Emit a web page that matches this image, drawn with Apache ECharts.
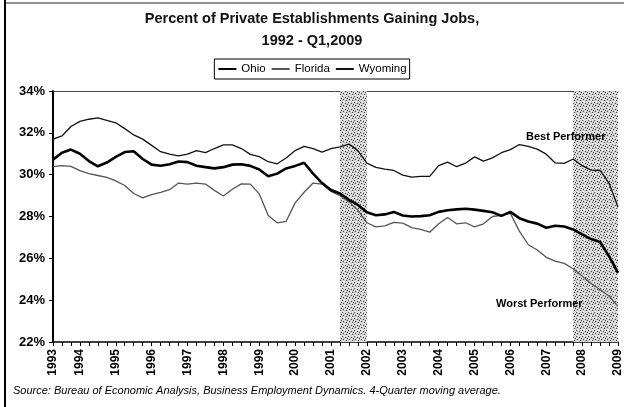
<!DOCTYPE html>
<html><head><meta charset="utf-8">
<script src="https://cdn.jsdelivr.net/npm/echarts@6/dist/echarts.min.js"></script>
<style>html,body{margin:0;padding:0;background:#fff}#c{width:624px;height:407px}</style>
</head><body><div id="c"></div>
<script>
const quarters = ['1993Q2','1993Q3','1993Q4',
'1994Q1','1994Q2','1994Q3','1994Q4','1995Q1','1995Q2','1995Q3','1995Q4',
'1996Q1','1996Q2','1996Q3','1996Q4','1997Q1','1997Q2','1997Q3','1997Q4',
'1998Q1','1998Q2','1998Q3','1998Q4','1999Q1','1999Q2','1999Q3','1999Q4',
'2000Q1','2000Q2','2000Q3','2000Q4','2001Q1','2001Q2','2001Q3','2001Q4',
'2002Q1','2002Q2','2002Q3','2002Q4','2003Q1','2003Q2','2003Q3','2003Q4',
'2004Q1','2004Q2','2004Q3','2004Q4','2005Q1','2005Q2','2005Q3','2005Q4',
'2006Q1','2006Q2','2006Q3','2006Q4','2007Q1','2007Q2','2007Q3','2007Q4',
'2008Q1','2008Q2','2008Q3','2008Q4','2009Q1'];

const ohio = [30.72,31.05,31.2,31.0,30.65,30.4,30.58,30.85,31.08,31.12,
30.75,30.48,30.43,30.5,30.63,30.6,30.43,30.36,30.3,30.36,
30.48,30.5,30.42,30.25,29.92,30.05,30.3,30.42,30.57,30.05,
29.6,29.27,29.1,28.8,28.55,28.2,28.06,28.1,28.22,28.05,
28.0,28.02,28.06,28.22,28.3,28.34,28.37,28.33,28.27,28.2,
28.03,28.22,27.92,27.76,27.66,27.46,27.56,27.52,27.38,27.15,
26.92,26.78,26.1,25.3];

const florida = [30.38,30.43,30.4,30.19,30.05,29.96,29.87,29.7,29.48,29.1,
28.89,29.05,29.15,29.28,29.6,29.55,29.6,29.55,29.25,28.98,
29.3,29.56,29.55,29.08,28.05,27.7,27.77,28.65,29.16,29.6,
29.55,29.2,29.0,28.7,28.3,27.7,27.5,27.55,27.72,27.68,
27.47,27.38,27.25,27.65,27.95,27.65,27.7,27.5,27.65,28.0,
28.05,28.15,27.3,26.65,26.4,26.05,25.87,25.76,25.5,25.15,
24.8,24.5,24.2,23.7];

const wyoming = [31.7,31.85,32.3,32.55,32.65,32.72,32.6,32.48,32.2,31.9,
31.7,31.4,31.1,30.98,30.9,30.98,31.15,31.05,31.25,31.42,
31.42,31.25,30.97,30.86,30.62,30.52,30.8,31.15,31.35,31.25,
31.08,31.24,31.33,31.46,31.15,30.55,30.35,30.27,30.2,29.98,
29.88,29.92,29.92,30.43,30.6,30.38,30.55,30.85,30.65,30.8,
31.05,31.2,31.44,31.35,31.22,30.98,30.56,30.54,30.75,30.43,
30.22,30.2,29.6,28.45];

const yMin = 22, yMax = 34, yStep = 2;
const recessions = [['2001Q2','2002Q1'], ['2007Q4','2009Q1']];

const FONT = "'Liberation Sans', Arial, sans-serif";

function stipple() {
  const c = document.createElement('canvas');
  c.width = 6; c.height = 6;
  const g = c.getContext('2d');
  g.fillStyle = '#cfcfcf'; g.fillRect(0, 0, 6, 6);
  g.fillStyle = '#3c3c3c';
  g.fillRect(0, 0, 1, 1); g.fillRect(3, 1, 1, 1); g.fillRect(1, 3, 1, 1); g.fillRect(4, 4, 1, 1); g.fillRect(5, 2, 1, 1);
  g.fillStyle = '#ffffff';
  g.fillRect(2, 0, 1, 1); g.fillRect(5, 0, 1, 1); g.fillRect(0, 2, 1, 1); g.fillRect(3, 3, 1, 1); g.fillRect(1, 5, 1, 1); g.fillRect(4, 5, 1, 1);
  return c;
}

const chart = echarts.init(document.getElementById('c'), null, {renderer: 'canvas'});
chart.setOption({
  animation: false,
  backgroundColor: '#fff',
  textStyle: {fontFamily: FONT, color: '#000'},
  title: [{
    text: 'Percent of Private Establishments Gaining Jobs,',
    left: 'center', top: 11, padding: 0,
    textStyle: {fontFamily: FONT, fontSize: 14.5, fontWeight: 'bold', color: '#111'}
  }, {
    text: '1992 - Q1,2009',
    left: 'center', top: 33, padding: 0,
    textStyle: {fontFamily: FONT, fontSize: 14.5, fontWeight: 'bold', color: '#111'}
  }],
  legend: {
    top: 59, left: 'center',
    data: ['Ohio', 'Florida', 'Wyoming'],
    borderColor: '#000', borderWidth: 1,
    padding: [4, 3], itemGap: 5, itemWidth: 18, itemHeight: 10,
    itemStyle: {color: 'rgba(0,0,0,0)', borderColor: 'rgba(0,0,0,0)', borderWidth: 0},
    textStyle: {fontFamily: FONT, fontSize: 11.5, color: '#000'}
  },
  grid: {left: 53, right: 4, top: 91, bottom: 65, containLabel: false},
  xAxis: [{
    type: 'category', data: quarters, boundaryGap: false,
    axisLine: {lineStyle: {color: '#000', width: 1.5}},
    axisTick: {show: true, interval: 0, inside: false, length: 4, lineStyle: {color: '#000'}},
    axisLabel: {
      rotate: 90, margin: 7, fontSize: 12, fontWeight: 'bold', color: '#000', fontFamily: FONT,
      interval: (idx, val) => idx === 0 || val.slice(4) === 'Q1',
      formatter: v => v.slice(0, 4)
    },
    splitLine: {show: false}
  }, {
    type: 'category', data: quarters, boundaryGap: false, position: 'top',
    axisLine: {show: true, lineStyle: {color: '#444', width: 1}},
    axisTick: {show: false}, axisLabel: {show: false}, splitLine: {show: false}
  }],
  yAxis: {
    type: 'value', min: yMin, max: yMax, interval: yStep,
    axisLine: {show: true, lineStyle: {color: '#000', width: 2}},
    axisTick: {show: true, length: 4, lineStyle: {color: '#000'}},
    axisLabel: {formatter: '{value}%', fontSize: 13, fontWeight: 'bold', color: '#000', margin: 8, fontFamily: FONT},
    splitLine: {show: false}
  },
  series: [
    {
      name: 'Ohio', type: 'line', data: ohio, symbol: 'none', z: 5,
      lineStyle: {color: '#000', width: 2.6}, itemStyle: {color: '#000'},
      markArea: {
        silent: true,
        itemStyle: {color: {image: stipple(), repeat: 'repeat'}},
        data: recessions.map(r => [{xAxis: r[0]}, {xAxis: r[1]}])
      }
    },
    {
      name: 'Florida', type: 'line', data: florida, symbol: 'none', z: 4,
      lineStyle: {color: '#555', width: 1.3}, itemStyle: {color: '#555'}
    },
    {
      name: 'Wyoming', type: 'line', data: wyoming, symbol: 'none', z: 4,
      lineStyle: {color: '#111', width: 1.3}, itemStyle: {color: '#111'}
    }
  ],
  graphic: [
    {type: 'line', shape: {x1: 5, y1: 0, x2: 5, y2: 407}, style: {stroke: '#000', lineWidth: 2}},
    {type: 'line', shape: {x1: 5, y1: 3, x2: 624, y2: 3}, style: {stroke: '#222', lineWidth: 1}},
    {type: 'text', left: 526, top: 131, z: 20,
      style: {text: 'Best Performer', font: "bold 11px 'Liberation Sans', Arial, sans-serif", fill: '#000'}},
    {type: 'text', left: 496, top: 298, z: 20,
      style: {text: 'Worst Performer', font: "bold 11px 'Liberation Sans', Arial, sans-serif", fill: '#000'}},
    {type: 'text', left: 13, top: 385,
      style: {text: 'Source: Bureau of Economic Analysis, Business Employment Dynamics. 4-Quarter moving average.',
        font: "italic 11px 'Liberation Sans', Arial, sans-serif", fill: '#000'}}
  ]
});
</script></body></html>
